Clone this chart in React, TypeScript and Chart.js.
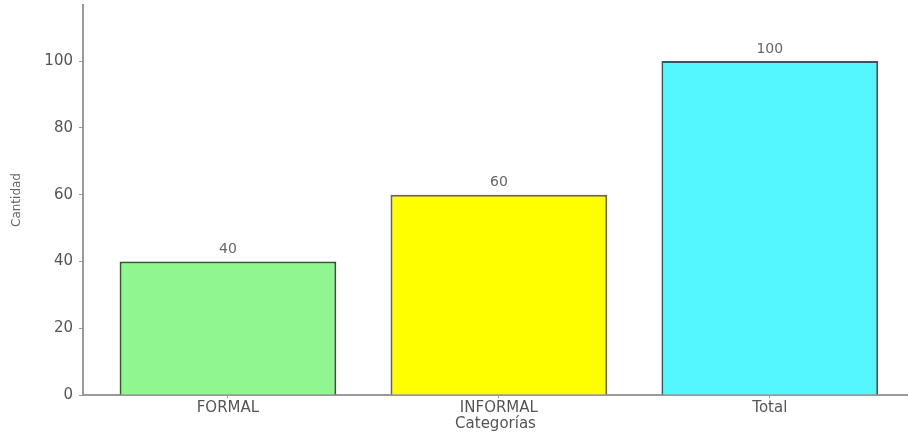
import React, { useEffect, useRef } from "react";
import { Chart, registerables } from "chart.js";

Chart.register(...registerables);

const categories = ["FORMAL", "INFORMAL", "Total"];
const values = [40, 60, 100];
const barColors = ["#90F790", "#FFFF00", "#55F7FF"];
const borderColors = ["#2E5A2E", "#6E6A1E", "#2E5A60"];
const yTicks = [0, 20, 40, 60, 80, 100];

const valueLabels = {
  id: "valueLabels",
  afterDatasetsDraw(chart: any) {
    const ctx = chart.ctx;
    const meta = chart.getDatasetMeta(0);
    ctx.save();
    ctx.font = "14px 'DejaVu Sans'";
    ctx.fillStyle = "#666";
    ctx.textAlign = "center";
    ctx.textBaseline = "bottom";
    meta.data.forEach((el: any, i: number) => {
      ctx.fillText(String(values[i]), el.x, el.y - 5);
    });
    ctx.restore();
  },
};

export default function App() {
  const ref = useRef<HTMLCanvasElement>(null);
  useEffect(() => {
    document.body.style.margin = "0";
    const chart = new Chart(ref.current!, {
      type: "bar",
      data: {
        datasets: [
          {
            data: values.map((v, i) => ({ x: i, y: v })),
            backgroundColor: barColors,
            borderColor: borderColors,
            borderWidth: 2,
            barPercentage: 0.8,
            categoryPercentage: 1.0,
          },
        ],
      },
      options: {
        animation: false,
        responsive: false,
        layout: { padding: { top: 5, right: 0, left: 0, bottom: 0 } },
        plugins: { legend: { display: false }, tooltip: { enabled: false } },
        scales: {
          x: {
            type: "linear",
            offset: false,
            min: -0.535,
            max: 2.51,
            z: 1,
            afterBuildTicks: (s: any) => {
              s.ticks = categories.map((_, i) => ({ value: i }));
            },
            afterFit: (s: any) => {
              s.height = 38;
              s.paddingLeft = 0;
              s.paddingRight = 0;
            },
            ticks: {
              callback: (v: any) => categories[Math.round(v)] ?? "",
              font: { family: "DejaVu Sans", size: 15 },
              color: "#555",
              padding: 1,
              maxRotation: 0,
            },
            grid: {
              offset: false,
              color: "rgba(255,255,255,0.55)",
              tickColor: "#999",
              tickLength: 3,
              lineWidth: 1,
            },
            border: { color: "#999", width: 2 },
            title: {
              display: true,
              text: "Categorías",
              font: { family: "DejaVu Sans", size: 15 },
              color: "#555",
              padding: { top: -2, bottom: 0 },
            },
          },
          y: {
            min: 0,
            max: 116.8,
            z: 1,
            afterBuildTicks: (s: any) => {
              s.ticks = yTicks.map((v) => ({ value: v }));
            },
            afterFit: (s: any) => {
              s.width = 83;
              s.paddingTop = 0;
              s.paddingBottom = 0;
            },
            ticks: {
              font: { family: "DejaVu Sans", size: 15 },
              color: "#555",
              padding: 6,
            },
            grid: {
              color: "rgba(255,255,255,0.55)",
              tickColor: "#999",
              tickLength: 4,
              lineWidth: 1,
            },
            border: { color: "#999", width: 2 },
            title: {
              display: true,
              text: "Cantidad",
              font: { family: "DejaVu Sans", size: 12 },
              color: "#666",
              padding: { top: 10, bottom: 0 },
            },
          },
        },
      },
      plugins: [valueLabels],
    });
    return () => chart.destroy();
  }, []);
  return <canvas ref={ref} width={908} height={433} style={{ display: "block" }} />;
}
